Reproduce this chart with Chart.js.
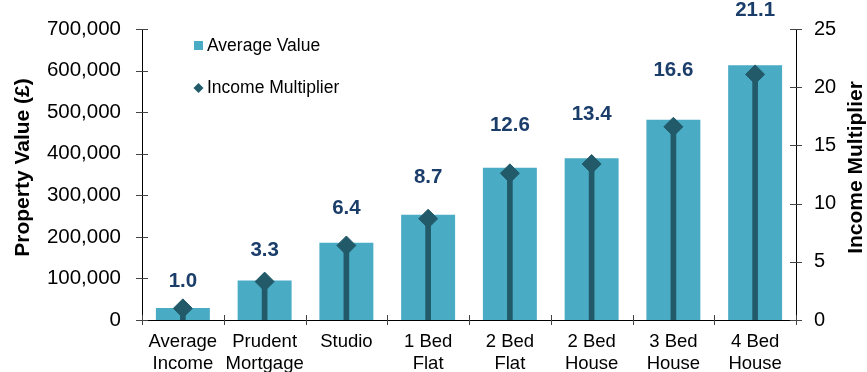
<!DOCTYPE html>
<html>
<head>
<meta charset="utf-8">
<title>Property Value and Income Multiplier</title>
<script src="https://cdn.jsdelivr.net/npm/chart.js@4/dist/chart.umd.min.js"></script>
<style>
    html, body { margin: 0; padding: 0; background: #ffffff; }
    #chart { display: block; }
</style>
</head>
<body>
<canvas id="chart" width="867" height="372"></canvas>
<script>
const categories = [
    ["Average", "Income"],
    ["Prudent", "Mortgage"],
    "Studio",
    ["1 Bed", "Flat"],
    ["2 Bed", "Flat"],
    ["2 Bed", "House"],
    ["3 Bed", "House"],
    ["4 Bed", "House"],
];
const averageValue = [29000, 95000, 186000, 253000, 366000, 389000, 482000, 613000];
const incomeMultiplier = [1.0, 3.3, 6.4, 8.7, 12.6, 13.4, 16.6, 21.1];

const valueTicks = [0, 100000, 200000, 300000, 400000, 500000, 600000, 700000];
const multiplierTicks = [0, 5, 10, 15, 20, 25];

const BAR_COLOR = "#4AABC5";
const STEM_COLOR = "#225A69";
const LABEL_COLOR = "#1A3D6A";
const FONT = "'Liberation Sans', Arial, Helvetica, sans-serif";

// tick marks crossing each axis, plus the two rotated axis titles
const axisDecor = {
    id: "axisDecor",
    afterDraw(chart) {
        const { ctx, chartArea } = chart;
        const y = chart.scales.y;
        const y1 = chart.scales.y1;
        ctx.save();
        ctx.strokeStyle = "#444";
        ctx.lineWidth = 1;
        ctx.beginPath();
        y.ticks.forEach((t, i) => {
            const py = Math.round(y.getPixelForTick(i)) + 0.5;
            ctx.moveTo(chartArea.left - 6, py);
            ctx.lineTo(chartArea.left + 6, py);
        });
        y1.ticks.forEach((t, i) => {
            const py = Math.round(y1.getPixelForTick(i)) + 0.5;
            ctx.moveTo(chartArea.right - 6, py);
            ctx.lineTo(chartArea.right + 6, py);
        });
        const step = (chartArea.right - chartArea.left) / categories.length;
        for (let i = 0; i <= categories.length; i++) {
            const px = Math.round(chartArea.left + i * step) + 0.5;
            ctx.moveTo(px, chartArea.bottom - 5);
            ctx.lineTo(px, chartArea.bottom + 5);
        }
        ctx.stroke();

        ctx.fillStyle = "#000";
        ctx.font = "bold 21px " + FONT;
        ctx.textAlign = "center";
        ctx.textBaseline = "middle";
        const midY = (chartArea.top + chartArea.bottom) / 2 - 7;
        ctx.translate(23, midY);
        ctx.rotate(-Math.PI / 2);
        ctx.fillText("Property Value (£)", 0, 0);
        ctx.restore();

        ctx.save();
        ctx.fillStyle = "#000";
        ctx.font = "bold 21px " + FONT;
        ctx.textAlign = "center";
        ctx.textBaseline = "middle";
        ctx.translate(856, midY);
        ctx.rotate(-Math.PI / 2);
        ctx.fillText("Income Multiplier", 0, 0);
        ctx.restore();
    }
};

// legend sits inside the plot, top left
const innerLegend = {
    id: "innerLegend",
    afterDraw(chart) {
        const { ctx, chartArea } = chart;
        const lx = chartArea.left + 52;
        ctx.save();
        ctx.font = "17.5px " + FONT;
        ctx.textBaseline = "middle";
        ctx.fillStyle = BAR_COLOR;
        ctx.fillRect(lx, 41, 9, 9);
        ctx.fillStyle = "#000";
        ctx.fillText("Average Value", lx + 13, 46);

        ctx.fillStyle = STEM_COLOR;
        ctx.beginPath();
        ctx.moveTo(lx - 0.5, 88);
        ctx.lineTo(lx + 4.5, 83);
        ctx.lineTo(lx + 9.5, 88);
        ctx.lineTo(lx + 4.5, 93);
        ctx.closePath();
        ctx.fill();
        ctx.fillStyle = "#000";
        ctx.fillText("Income Multiplier", lx + 13, 88);
        ctx.restore();
    }
};

// multiplier values written above each diamond
const valueLabels = {
    id: "valueLabels",
    afterDatasetsDraw(chart) {
        const { ctx } = chart;
        const x = chart.scales.x;
        const y1 = chart.scales.y1;
        ctx.save();
        ctx.font = "bold 20.5px " + FONT;
        ctx.fillStyle = LABEL_COLOR;
        ctx.textAlign = "center";
        ctx.textBaseline = "middle";
        incomeMultiplier.forEach((m, i) => {
            const px = x.getPixelForValue(i);
            const py = y1.getPixelForValue(m * 1.16 + 2.15);
            ctx.fillText(m.toFixed(1), px, py);
        });
        ctx.restore();
    }
};

new Chart(document.getElementById("chart"), {
    data: {
        labels: categories,
        datasets: [
            {
                type: "line",
                label: "Income Multiplier",
                data: incomeMultiplier,
                yAxisID: "y1",
                showLine: false,
                pointStyle: "rectRot",
                pointRadius: 9.5,
                pointBorderWidth: 1,
                pointBackgroundColor: STEM_COLOR,
                pointBorderColor: STEM_COLOR,
                order: 0,
            },
            {
                type: "bar",
                label: "stem",
                data: incomeMultiplier,
                yAxisID: "y1",
                backgroundColor: STEM_COLOR,
                barThickness: 5,
                grouped: false,
                order: 1,
            },
            {
                type: "bar",
                label: "Average Value",
                data: averageValue,
                yAxisID: "y",
                backgroundColor: BAR_COLOR,
                categoryPercentage: 1,
                barPercentage: 0.66,
                grouped: false,
                order: 2,
            },
        ],
    },
    options: {
        responsive: false,
        animation: false,
        // small tick lineHeight keeps the top label from pushing the plot down
        layout: { padding: { top: 29, left: 0, right: 0, bottom: 0 } },
        plugins: {
            legend: { display: false },
            tooltip: { enabled: false },
        },
        scales: {
            x: {
                offset: true,
                grid: { display: false, tickLength: 0 },
                border: { display: true, color: "#000", width: 1 },
                ticks: {
                    color: "#000",
                    padding: 11,
                    font: { family: FONT, size: 18.5, lineHeight: 1.2 },
                    maxRotation: 0,
                    autoSkip: false,
                },
                afterFit(scale) { scale.height = 52; },
            },
            y: {
                position: "left",
                min: 0,
                max: 700000,
                grid: { display: false, tickLength: 0 },
                border: { display: true, color: "#000", width: 1 },
                afterBuildTicks(scale) { scale.ticks = valueTicks.map(v => ({ value: v })); },
                ticks: {
                    color: "#000",
                    padding: 21,
                    font: { family: FONT, size: 20.5, lineHeight: 0.6 },
                    callback: v => v.toLocaleString("en-GB"),
                },
                afterFit(scale) { scale.width = 142; },
            },
            y1: {
                position: "right",
                min: 0,
                max: 25,
                grid: { display: false, tickLength: 0 },
                border: { display: true, color: "#000", width: 1 },
                afterBuildTicks(scale) { scale.ticks = multiplierTicks.map(v => ({ value: v })); },
                ticks: {
                    color: "#000",
                    padding: 18,
                    font: { family: FONT, size: 20, lineHeight: 0.6 },
                },
                afterFit(scale) { scale.width = 71; },
            },
        },
    },
    plugins: [valueLabels, axisDecor, innerLegend],
});
</script>
</body>
</html>
